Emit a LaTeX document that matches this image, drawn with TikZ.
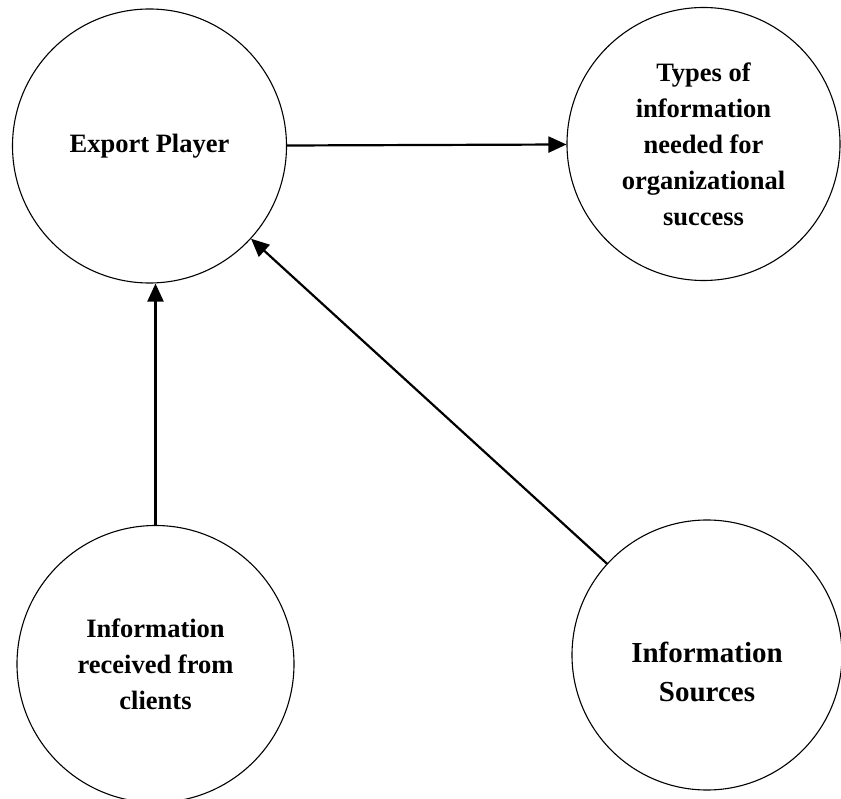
\documentclass[tikz,border=0pt]{standalone}
\usepackage{fontspec}
\setmainfont{Liberation Serif}
\usetikzlibrary{arrows.meta}

\begin{document}
\begin{tikzpicture}[x=1pt,y=1pt,
		bubble/.style={draw=black,circle,line width=1.1pt,minimum size=274pt,inner sep=0pt,align=center,font=\fontsize{26.5}{36}\selectfont\bfseries},
		flow/.style={draw=black,line width=2.2pt,-{Triangle[length=18pt,width=16pt]}}]
		\useasboundingbox (0,0) rectangle (841,-799);
		\node [bubble] (player) at (149.5,-146) {Export Player};
		\node [bubble,minimum size=273pt] (types) at (703.5,-144) {Types of\\information\\needed for\\organizational\\success};
		\node [bubble,minimum size=277pt] (clients) at (155.5,-664) {Information\\received from\\clients};
		\node [bubble,minimum size=270pt,label={[font=\fontsize{29}{39}\selectfont\bfseries,align=center,yshift=-17pt]center:{Information\\Sources}}] (sources) at (707,-655) {};
		\draw [flow] (player) -- (types);
		\draw [flow] (clients.north) -- (clients.north |- player.south);
		\draw [flow] (sources) -- (player);
\end{tikzpicture}
\end{document}
